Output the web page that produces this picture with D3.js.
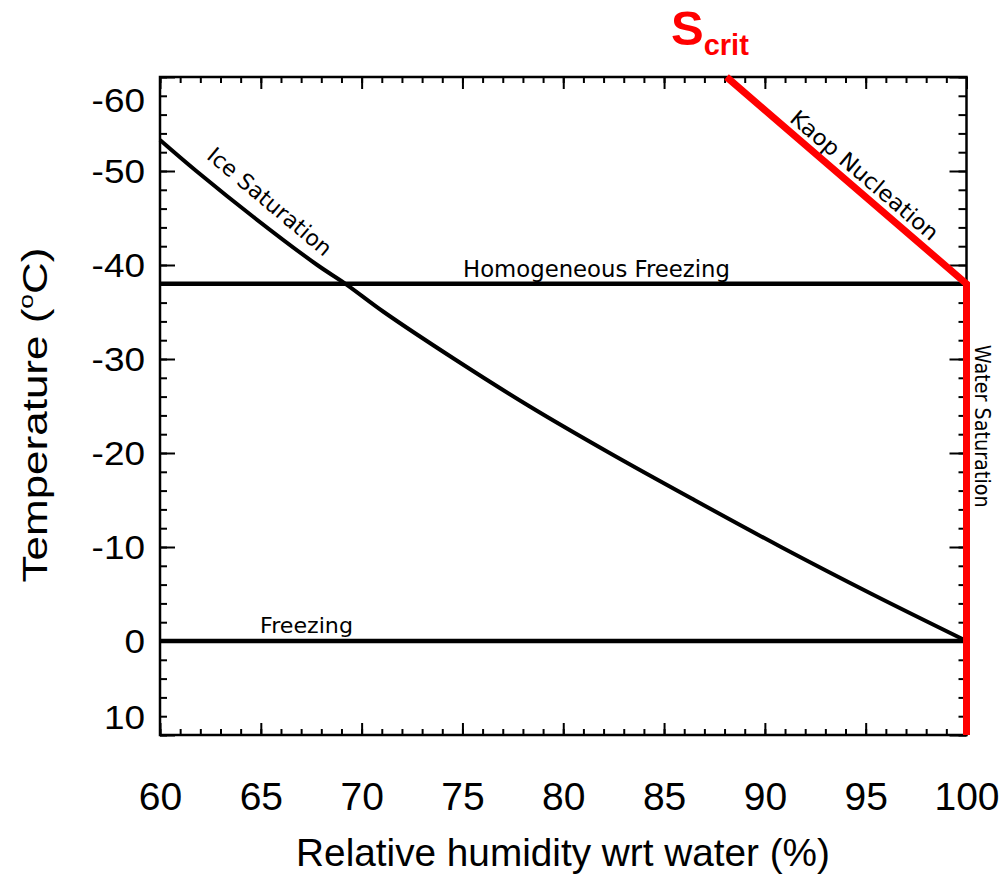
<!DOCTYPE html>
<html>
<head>
<meta charset="utf-8">
<script src="https://cdn.jsdelivr.net/npm/d3@7"></script>
<style>
  body { margin: 0; background: #fff; }
  svg { display: block; }
</style>
</head>
<body>
<svg id="chart" width="1000" height="874"></svg>
<script>
// Ice-saturation curve: relative humidity wrt water (%) at each temperature (°C)
const iceSatT  = [-53.3, -50, -45, -40, -38, -35, -30, -25, -20, -15, -10, -5, 0];
const iceSatRH = [60.0, 61.8, 64.7, 67.8, 69.2, 71.1, 74.6, 78.3, 82.3, 86.5, 90.8, 95.3, 100.0];

// Critical saturation: Koop nucleation limit, then water saturation
const scritRH = [88.1, 100.0, 100.0];
const scritT  = [-60, -38, 10];

// Reference temperatures
const homFreezeT = -38;
const freezeT = 0;

// Axes
const xDomain = [60, 100];
const yDomain = [-60, 10];
const xTicks = [60, 65, 70, 75, 80, 85, 90, 95, 100];
const yTicks = [-60, -50, -40, -30, -20, -10, 0, 10];

const svg = d3.select("#chart");
const L = 160, R = 966.5, T = 77, B = 735;

const x = d3.scaleLinear().domain(xDomain).range([L, R]);
const y = d3.scaleLinear().domain(yDomain).range([T, B]);

const xMinor = d3.range(xDomain[0], xDomain[1] + 1, 1);
const yMinor = d3.range(yDomain[0], yDomain[1] + 1, 2);

// stretch a text element horizontally (in its own frame) to a target length
function fitWidth(sel, width, pre) {
  sel.each(function () {
    const w = this.getComputedTextLength();
    d3.select(this).attr("transform", (pre || "") + ` scale(${width / w},1)`);
  });
}

// ---- tick marks (all pointing inward) ----
function tickAxis(axis, scale, values, size, tx, ty) {
  const g = svg.append("g")
    .attr("transform", `translate(${tx},${ty})`)
    .call(axis(scale).tickValues(values).tickSize(size).tickFormat(""));
  g.select(".domain").remove();
  g.selectAll(".tick line").attr("stroke", "#000").attr("stroke-width", 2);
  return g;
}
tickAxis(d3.axisBottom, x, xMinor, -6, 0, B);
tickAxis(d3.axisBottom, x, xTicks, -12, 0, B);
tickAxis(d3.axisTop, x, xMinor, -6, 0, T);
tickAxis(d3.axisTop, x, xTicks, -12, 0, T);
tickAxis(d3.axisLeft, y, yMinor, -7, L, 0);
tickAxis(d3.axisLeft, y, yTicks, -15, L, 0);
tickAxis(d3.axisRight, y, yMinor, -8, R, 0);
tickAxis(d3.axisRight, y, yTicks, -17, R, 0);

// frame
svg.append("rect")
  .attr("x", L).attr("y", T).attr("width", R - L).attr("height", B - T)
  .attr("fill", "none").attr("stroke", "#000").attr("stroke-width", 2.5);

// ---- tick labels ----
const xLab = svg.append("g")
  .attr("transform", `translate(0,${B})`)
  .call(d3.axisBottom(x).tickValues(xTicks).tickSize(0).tickPadding(47).tickFormat(d => String(d)));
xLab.select(".domain").remove();
xLab.selectAll("text")
  .attr("font-family", "Liberation Sans, Arial, sans-serif")
  .attr("font-size", 39).attr("fill", "#000");

const yLab = svg.append("g")
  .attr("transform", `translate(${L},0)`)
  .call(d3.axisLeft(y).tickValues(yTicks).tickSize(0).tickPadding(0).tickFormat(d => String(d)));
yLab.select(".domain").remove();
yLab.selectAll("text")
  .attr("x", 0)
  .attr("font-family", "Liberation Sans, Arial, sans-serif")
  .attr("font-size", 33).attr("fill", "#000")
  .attr("dy", d => {
    // keep end labels inside the frame
    const half = 12, py = y(d);
    const cy = Math.min(Math.max(py, T + half + 11), B - half - 6);
    return (cy - py + 11.5) + "px";
  })
  .each(function () {
    const w = this.getComputedTextLength();
    d3.select(this).attr("transform", `translate(-15,0) scale(1.12,1)`);
  });

// ---- axis titles ----
const xt = svg.append("g").attr("transform", "translate(563,866)")
  .append("text").attr("text-anchor", "middle")
  .attr("font-family", "Liberation Sans, Arial, sans-serif").attr("font-size", 38)
  .text("Relative humidity wrt water (%)");
fitWidth(xt, 534);

const yt = svg.append("g").attr("transform", "translate(47,415) rotate(-90)")
  .append("text").attr("text-anchor", "middle")
  .attr("font-family", "Liberation Sans, Arial, sans-serif").attr("font-size", 35);
yt.append("tspan").text("Temperature (");
yt.append("tspan").attr("font-size", 21).attr("dy", -14).text("o");
yt.append("tspan").attr("dy", 14).text("C)");
fitWidth(yt, 335);

// ---- lines ----
const line = d3.line().x(d => x(d[0])).y(d => y(d[1]));

svg.append("path")
  .datum([[xDomain[0], homFreezeT], [xDomain[1], homFreezeT]])
  .attr("d", line).attr("stroke", "#000").attr("stroke-width", 4.5).attr("fill", "none");
svg.append("path")
  .datum([[xDomain[0], freezeT], [xDomain[1], freezeT]])
  .attr("d", line).attr("stroke", "#000").attr("stroke-width", 4.5).attr("fill", "none");

svg.append("path")
  .datum(d3.zip(iceSatRH, iceSatT))
  .attr("d", d3.line().x(d => x(d[0])).y(d => y(d[1])).curve(d3.curveCatmullRom))
  .attr("stroke", "#000").attr("stroke-width", 4).attr("fill", "none");

svg.append("path")
  .datum(d3.zip(scritRH, scritT))
  .attr("d", line)
  .attr("stroke", "#ff0000").attr("stroke-width", 7).attr("fill", "none")
  .attr("stroke-linejoin", "miter");

// ---- line labels ----
const lblFont = "DejaVu Sans, Verdana, sans-serif";
function label(txt, tx, ty, angle, size, width) {
  const t = svg.append("g").attr("transform", `translate(${tx},${ty}) rotate(${angle})`)
    .append("text").attr("text-anchor", "middle")
    .attr("font-family", lblFont).attr("font-size", size).attr("fill", "#000")
    .text(txt);
  fitWidth(t, width);
}
label("Homogeneous Freezing", 596.5, y(homFreezeT) - 7, 0, 23, 267);
label("Freezing", 306.5, y(freezeT) - 8.5, 0, 22, 93);
label("Ice Saturation", x(64.8) + 8, y(-46) - 1, 40, 22, 155);
label("Kaop Nucleation", x(94.3) + 8, y(-48.5) - 4, 40.5, 22, 187);
label("Water Saturation", R + 8, (y(-31) + y(-13)) / 2 - 8, 90, 22, 163);

// ---- S_crit heading ----
const sc = svg.append("text").attr("x", 671).attr("y", 45)
  .attr("font-family", "Liberation Sans, Arial, sans-serif").attr("font-weight", "bold")
  .attr("fill", "#ff0000");
sc.append("tspan").attr("font-size", 49).text("S");
sc.append("tspan").attr("font-size", 29).attr("dy", 10).text("crit");
</script>
</body>
</html>
